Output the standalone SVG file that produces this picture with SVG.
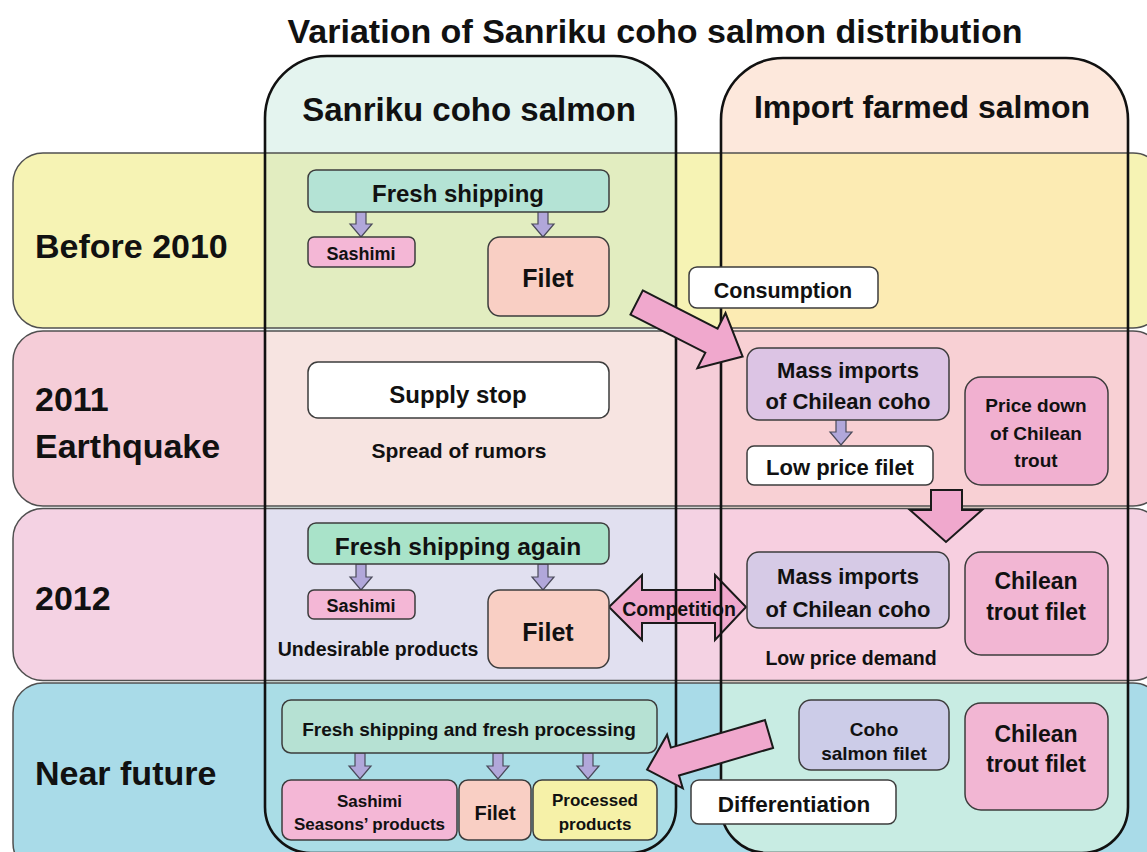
<svg xmlns="http://www.w3.org/2000/svg" width="1147" height="852" viewBox="0 0 1147 852">
<style>
text{font-family:"Liberation Sans",Arial,sans-serif;font-weight:bold;fill:#111;text-anchor:middle}
.rowl{text-anchor:start;font-size:34px}
.box{stroke:#3c3c3c;stroke-width:1.5}
.rowo{fill:none;stroke:#505050;stroke-width:1.5}
.colo{fill:none;stroke:#111;stroke-width:2.6}
.big{fill:#f0a8cd;stroke:#1a1a1a;stroke-width:2}
.sm{fill:#b1a7da;stroke:#4a4a5a;stroke-width:1.2}
</style>
<defs>
<path id="colA" d="M265,118 A62,62 0 0 1 327,56 L614,56 A62,62 0 0 1 676,118 L676,807 A46,46 0 0 1 630,853 L311,853 A46,46 0 0 1 265,807 Z"/>
<path id="colB" d="M721,120 A62,62 0 0 1 783,58 L1066,58 A62,62 0 0 1 1128,120 L1128,807 A46,46 0 0 1 1082,853 L767,853 A46,46 0 0 1 721,807 Z"/>
<clipPath id="clipA"><use href="#colA"/></clipPath>
<clipPath id="clipB"><use href="#colB"/></clipPath>
<polygon id="dn" class="sm" points="-5,0 5,0 5,13 11,13 0,26 -11,13 -5,13"/>
</defs>
<rect width="1147" height="852" fill="#fff"/>
<text x="655" y="43" style="font-size:34px">Variation of Sanriku coho salmon distribution</text>

<g id="rows">
<rect x="13" y="153" width="1150" height="175" rx="30" fill="#f6f3b4"/>
<rect x="13" y="331" width="1150" height="175" rx="30" fill="#f5cdd8"/>
<rect x="13" y="508.5" width="1150" height="172" rx="30" fill="#f4d2e3"/>
<rect x="13" y="683" width="1150" height="190" rx="30" fill="#a9dbe8"/>
</g>
<g id="columns-fill">
<use href="#colA" fill="#e4f4ef"/>
<use href="#colB" fill="#fde8dc"/>
<g clip-path="url(#clipA)">
<rect x="265" y="153" width="411" height="175" fill="#e2edc0"/>
<rect x="265" y="331" width="411" height="175" fill="#f7e4e1"/>
<rect x="265" y="508.5" width="411" height="172" fill="#e1e0f0"/>
<rect x="265" y="683" width="411" height="190" fill="#aadde6"/>
</g>
<g clip-path="url(#clipB)">
<rect x="721" y="153" width="407" height="175" fill="#fcebb3"/>
<rect x="721" y="331" width="407" height="175" fill="#f8d0d4"/>
<rect x="721" y="508.5" width="407" height="172" fill="#f7cfe0"/>
<rect x="721" y="683" width="407" height="190" fill="#c8ece3"/>
</g>
</g>
<g id="row-outlines">
<rect class="rowo" x="13" y="153" width="1150" height="175" rx="30"/>
<rect class="rowo" x="13" y="331" width="1150" height="175" rx="30"/>
<rect class="rowo" x="13" y="508.5" width="1150" height="172" rx="30"/>
<rect class="rowo" x="13" y="683" width="1150" height="190" rx="30"/>
</g>
<g id="connectors-under">
<polygon class="big" points="609,607 642,575 642,590 715,590 715,575 746,607 715,640 715,623 642,623 642,640"/>
</g>
<g id="column-outlines">
<use href="#colA" class="colo"/>
<use href="#colB" class="colo"/>
</g>

<g id="headers">
<text x="469" y="121" style="font-size:33px">Sanriku coho salmon</text>
<text x="922" y="118" style="font-size:32px">Import farmed salmon</text>
</g>
<g id="row-labels">
<text class="rowl" x="35" y="258">Before 2010</text>
<text class="rowl" x="35" y="411">2011</text>
<text class="rowl" x="35" y="458">Earthquake</text>
<text class="rowl" x="35" y="610">2012</text>
<text class="rowl" x="35" y="785">Near future</text>
</g>

<g id="connectors">
<use href="#dn" x="361" y="211"/>
<use href="#dn" x="543" y="211"/>
<use href="#dn" x="841" y="419"/>
<use href="#dn" x="361" y="564"/>
<use href="#dn" x="543" y="564"/>
<use href="#dn" x="360" y="753"/>
<use href="#dn" x="498" y="753"/>
<use href="#dn" x="588" y="753"/>
<polygon class="big" transform="translate(636.6,302.5) rotate(27)" points="0,-13.5 84,-13.5 84,-31 119,0 84,31 84,13.5 0,13.5"/>
<polygon class="big" points="931,490 962,490 962,510 982,510 946,542 910,510 931,510"/>
<polygon class="big" transform="translate(769,734) rotate(163.7)" points="0,-14.5 98,-14.5 98,-28 127,0 98,28 98,14.5 0,14.5"/>
</g>

<g id="n-fresh1"><rect class="box" x="308" y="170" width="301" height="42" rx="8" fill="#b4e3d5"/><text x="458" y="202" style="font-size:24px">Fresh shipping</text></g>
<g id="n-sashimi1"><rect class="box" x="308" y="237" width="107" height="30" rx="6" fill="#f4b7d6"/><text x="361" y="260" style="font-size:18px">Sashimi</text></g>
<g id="n-filet1"><rect class="box" x="488" y="237" width="121" height="79" rx="12" fill="#f9cfc4"/><text x="548" y="287" style="font-size:25px">Filet</text></g>

<g id="n-supply"><rect class="box" x="308" y="362" width="301" height="56" rx="10" fill="#fff"/><text x="458" y="403" style="font-size:24px">Supply stop</text></g>
<g id="n-rumors"><text x="459" y="458" style="font-size:21px">Spread of rumors</text></g>

<g id="n-fresh2"><rect class="box" x="308" y="523" width="301" height="41" rx="8" fill="#a9e3c9"/><text x="458" y="555" style="font-size:24.5px">Fresh shipping again</text></g>
<g id="n-sashimi2"><rect class="box" x="308" y="590" width="107" height="29" rx="6" fill="#f4b7d6"/><text x="361" y="612" style="font-size:18px">Sashimi</text></g>
<g id="n-filet2"><rect class="box" x="488" y="590" width="121" height="78" rx="12" fill="#f9cfc4"/><text x="548" y="641" style="font-size:25px">Filet</text></g>
<g id="n-undesirable"><text x="378" y="656" style="font-size:19.5px">Undesirable products</text></g>

<g id="n-fresh3"><rect class="box" x="282" y="700" width="375" height="53" rx="9" fill="#b6e1d3"/><text x="469" y="736" style="font-size:19px">Fresh shipping and fresh processing</text></g>
<g id="n-sashimi3"><rect class="box" x="282" y="780" width="175" height="60" rx="9" fill="#f4b7d6"/><text x="369.5" y="807" style="font-size:17px">Sashimi</text><text x="369.5" y="830" style="font-size:17px">Seasons’ products</text></g>
<g id="n-filet3"><rect class="box" x="459" y="780" width="72" height="60" rx="9" fill="#f9cfc4"/><text x="495" y="820" style="font-size:20px">Filet</text></g>
<g id="n-processed"><rect class="box" x="533" y="780" width="124" height="60" rx="9" fill="#f6f1a8"/><text x="595" y="806" style="font-size:17px">Processed</text><text x="595" y="830" style="font-size:17px">products</text></g>

<g id="n-consumption"><rect class="box" x="689" y="267" width="189" height="41" rx="8" fill="#fff"/><text x="783" y="298" style="font-size:21.5px">Consumption</text></g>
<g id="n-mass1"><rect class="box" x="747" y="348" width="202" height="72" rx="12" fill="#dcc4e4"/><text x="848" y="378" style="font-size:22px">Mass imports</text><text x="848" y="409" style="font-size:22px">of Chilean coho</text></g>
<g id="n-lowfilet"><rect class="box" x="747" y="446" width="186" height="39" rx="7" fill="#fff"/><text x="840" y="475" style="font-size:22px">Low price filet</text></g>
<g id="n-pricedown"><rect class="box" x="965" y="377" width="143" height="108" rx="16" fill="#f1b0d0"/><text x="1036" y="412" style="font-size:19px">Price down</text><text x="1036" y="440" style="font-size:19px">of Chilean</text><text x="1036" y="467" style="font-size:19px">trout</text></g>

<g id="n-mass2"><rect class="box" x="747" y="552" width="202" height="76" rx="12" fill="#d6cae6"/><text x="848" y="584" style="font-size:22px">Mass imports</text><text x="848" y="617" style="font-size:22px">of Chilean coho</text></g>
<g id="n-trout1"><rect class="box" x="965" y="552" width="143" height="103" rx="16" fill="#f2b6d3"/><text x="1036" y="589" style="font-size:23px">Chilean</text><text x="1036" y="620" style="font-size:23px">trout filet</text></g>
<g id="n-lowdemand"><text x="851" y="665" style="font-size:19.5px">Low price demand</text></g>
<g id="n-competition"><text x="679" y="616" style="font-size:19.5px">Competition</text></g>

<g id="n-coho"><rect class="box" x="799" y="700" width="150" height="70" rx="12" fill="#cccce8"/><text x="874" y="736" style="font-size:19px">Coho</text><text x="874" y="760" style="font-size:19px">salmon filet</text></g>
<g id="n-trout2"><rect class="box" x="965" y="703" width="143" height="107" rx="16" fill="#f2b6d3"/><text x="1036" y="742" style="font-size:23px">Chilean</text><text x="1036" y="772" style="font-size:23px">trout filet</text></g>
<g id="n-diff"><rect class="box" x="691" y="780" width="205" height="44" rx="8" fill="#fff"/><text x="794" y="812" style="font-size:22.5px">Differentiation</text></g>
</svg>
